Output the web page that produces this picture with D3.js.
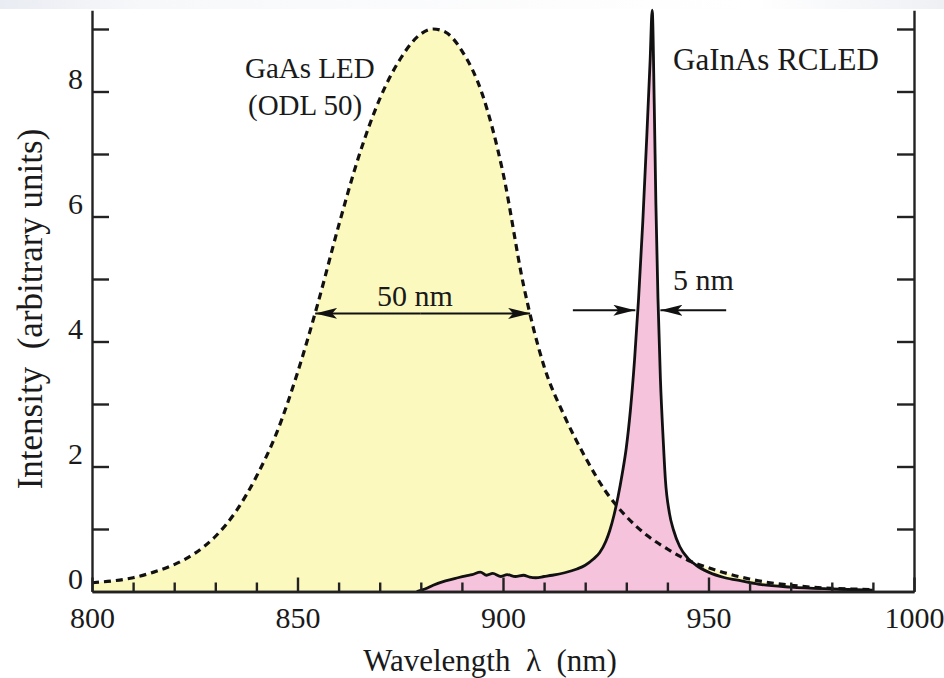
<!DOCTYPE html>
<html>
<head>
<meta charset="utf-8">
<script src="https://cdn.jsdelivr.net/npm/d3@7"></script>
<style>
	body { margin: 0; background: #fff; }
	svg { display: block; }
	text { font-family: 'Liberation Serif', 'Times New Roman', serif; fill: #1a1a1a; }
</style>
</head>
<body>
<div id="graphic"></div>
<script>
// GaAs LED (ODL 50) spectrum
const gaasWavelength = [800, 805, 810, 815, 820, 825, 830, 835, 840, 845, 850, 855, 860, 865, 870, 875, 880, 883, 886, 890, 895, 900, 905, 910, 915, 920, 925, 930, 935, 940, 945, 950, 955, 960, 965, 970, 975, 980, 985, 990];
const gaasIntensity = [0.14, 0.17, 0.22, 0.31, 0.43, 0.61, 0.88, 1.28, 1.84, 2.55, 3.5, 4.62, 5.85, 6.98, 7.88, 8.52, 8.92, 9.0, 8.95, 8.65, 7.95, 6.7, 4.9, 3.6, 2.8, 2.15, 1.6, 1.2, 0.9, 0.68, 0.5, 0.38, 0.28, 0.2, 0.14, 0.1, 0.07, 0.05, 0.04, 0.03];

// GaInAs RCLED spectrum
const rcledWavelength = [879, 881, 883, 886, 889, 891, 892.5, 894.5, 896, 897.5, 899.5, 901, 903, 905, 906.5, 908, 910, 912, 915, 918, 920, 922, 923.5, 925, 926, 927, 928, 929, 930, 931, 932, 933, 934, 935, 935.8, 936.3, 936.8, 937.2, 937.7, 938.3, 939, 939.5, 940.5, 941.5, 943, 945, 947, 950, 954, 958, 963, 970, 980, 990];
const rcledIntensity = [0, 0.04, 0.1, 0.17, 0.22, 0.25, 0.27, 0.31, 0.26, 0.29, 0.24, 0.27, 0.24, 0.26, 0.23, 0.22, 0.24, 0.26, 0.3, 0.36, 0.42, 0.52, 0.62, 0.8, 0.98, 1.22, 1.52, 1.88, 2.3, 2.9, 3.7, 4.7, 5.9, 7.3, 8.5, 9.3, 7.8, 6.2, 4.7, 3.4, 2.4, 1.8, 1.25, 0.98, 0.72, 0.53, 0.42, 0.31, 0.22, 0.17, 0.11, 0.07, 0.04, 0.02];

const xMajorTicks = [800, 850, 900, 950, 1000];
const xMinorTicks = d3.range(810, 1000, 10).filter(d => d % 50 !== 0);
const yTicks = [1, 2, 3, 4, 5, 6, 7, 8, 9];
const yTickLabels = [0, 2, 4, 6, 8];

const width = 944, height = 678;

const gaas = gaasWavelength.map((w, i) => ({ w: w, v: gaasIntensity[i] }));
const rcled = rcledWavelength.map((w, i) => ({ w: w, v: rcledIntensity[i] }));

const svg = d3.select('#graphic')
	.append('svg')
	.attr('width', width)
	.attr('height', height);

const defs = svg.append('defs');

// faint slide artefact at the top edge
const grad = defs.append('linearGradient').attr('id', 'topfade');
grad.append('stop').attr('offset', '0%').attr('stop-color', '#e9ecf2');
grad.append('stop').attr('offset', '15%').attr('stop-color', '#f7f8fa');
grad.append('stop').attr('offset', '80%').attr('stop-color', '#fff');
grad.append('stop').attr('offset', '100%').attr('stop-color', '#eef0f4');
svg.append('rect').attr('x', 0).attr('y', 0).attr('width', width).attr('height', 9).attr('fill', 'url(#topfade)');

const x = d3.scaleLinear().domain([800, 1000]).range([92, 914]);
const y = d3.scaleLinear().domain([0, 9.3]).range([591.5, 10.25]);

const area = d3.area()
	.x(d => x(d.w))
	.y0(y(0))
	.y1(d => y(d.v))
	.curve(d3.curveMonotoneX);

const line = d3.line()
	.x(d => x(d.w))
	.y(d => y(d.v))
	.curve(d3.curveMonotoneX);

svg.append('path').datum(gaas).attr('d', area).attr('fill', '#fcf9bf');
svg.append('path').datum(rcled).attr('d', area).attr('fill', '#f6c3dc');

svg.append('path').datum(gaas).attr('d', line)
	.attr('fill', 'none')
	.attr('stroke', '#111')
	.attr('stroke-width', 3.2)
	.attr('stroke-dasharray', '7,5');

svg.append('path').datum(rcled).attr('d', line)
	.attr('fill', 'none')
	.attr('stroke', '#111')
	.attr('stroke-width', 2.8)
	.attr('stroke-linejoin', 'round');

// axes
const axisColour = '#222';

const xAxisMinor = d3.axisBottom(x).tickValues(xMinorTicks).tickSize(-9).tickSizeOuter(0).tickFormat('');
const xAxis = d3.axisBottom(x)
	.tickValues(xMajorTicks)
	.tickSize(-14)
	.tickSizeOuter(0)
	.tickPadding(15)
	.tickFormat(d3.format('d'));

svg.append('g')
	.attr('class', 'x axis minor')
	.attr('transform', 'translate(0,' + y(0) + ')')
	.call(xAxisMinor);

svg.append('g')
	.attr('class', 'x axis')
	.attr('transform', 'translate(0,' + y(0) + ')')
	.call(xAxis);

const yAxis = d3.axisLeft(y).tickValues(yTicks).tickSize(-17).tickSizeOuter(0).tickFormat('');
const yAxisRight = d3.axisRight(y).tickValues(yTicks).tickSize(-17).tickSizeOuter(0).tickFormat('');

svg.append('g')
	.attr('class', 'y axis')
	.attr('transform', 'translate(' + x(800) + ',0)')
	.call(yAxis);

svg.append('g')
	.attr('class', 'y axis')
	.attr('transform', 'translate(' + x(1000) + ',0)')
	.call(yAxisRight);

svg.selectAll('.axis path, .axis line')
	.attr('stroke', axisColour)
	.attr('stroke-width', 2.4);

svg.selectAll('.axis text')
	.style('font-size', '30px')
	.attr('fill', '#1a1a1a');

// y tick labels sit a little above their ticks
svg.append('g')
	.selectAll('text')
	.data(yTickLabels)
	.join('text')
	.attr('x', x(800) - 9)
	.attr('y', d => y(d) - 3)
	.attr('text-anchor', 'end')
	.style('font-size', '30px')
	.text(d => d);

// axis titles
svg.append('text')
	.attr('x', 490)
	.attr('y', 671)
	.attr('text-anchor', 'middle')
	.style('font-size', '31px')
	.style('white-space', 'pre')
	.text('Wavelength  λ  (nm)');

svg.append('text')
	.attr('transform', 'translate(42,309) rotate(-90)')
	.attr('text-anchor', 'middle')
	.style('font-size', '35px')
	.style('white-space', 'pre')
	.text('Intensity  (arbitrary units)');

// curve labels
svg.append('text').attr('x', 245).attr('y', 78).style('font-size', '29px').text('GaAs LED');
svg.append('text').attr('x', 248).attr('y', 115).style('font-size', '29px').text('(ODL 50)');
svg.append('text').attr('x', 673).attr('y', 70).style('font-size', '31px').text('GaInAs RCLED');

// width annotations
defs.append('marker')
	.attr('id', 'head')
	.attr('markerUnits', 'userSpaceOnUse')
	.attr('viewBox', '0 0 22 11')
	.attr('refX', 22)
	.attr('refY', 5.5)
	.attr('markerWidth', 22)
	.attr('markerHeight', 11)
	.attr('orient', 'auto')
	.append('path')
	.attr('d', 'M0,0 L22,5.5 L0,11 L5,5.5 Z')
	.attr('fill', '#111');

const arrow = (from, to, level) => svg.append('line')
	.attr('x1', x(from)).attr('y1', y(level))
	.attr('x2', x(to)).attr('y2', y(level))
	.attr('stroke', '#111')
	.attr('stroke-width', 2)
	.attr('marker-end', 'url(#head)');

// 50 nm, double-headed
arrow(880, 854.3, 4.45);
arrow(880, 906.6, 4.45);
svg.append('text').attr('x', 415).attr('y', 306).attr('text-anchor', 'middle').style('font-size', '30px').text('50 nm');

// 5 nm, pointing inward
arrow(917, 932.2, 4.5);
arrow(954.3, 938.3, 4.5);
svg.append('text').attr('x', 673).attr('y', 290).style('font-size', '30px').text('5 nm');
</script>
</body>
</html>
